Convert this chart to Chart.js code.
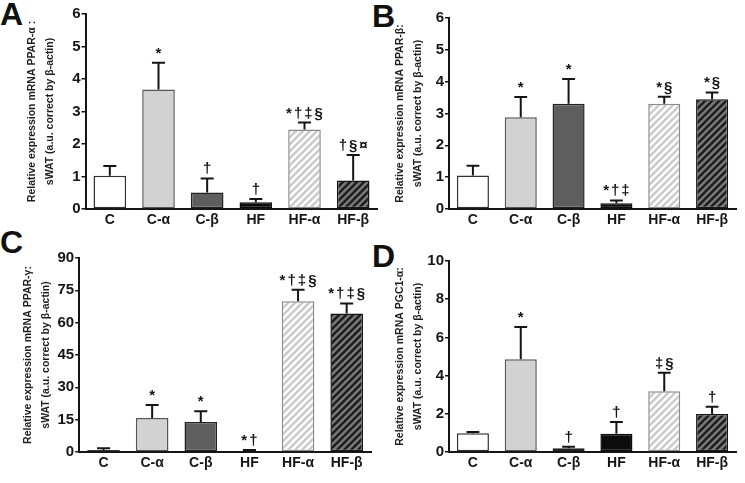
<!DOCTYPE html>
<html>
<head>
<meta charset="utf-8">
<script src="https://cdn.jsdelivr.net/npm/chart.js@4.4.1/dist/chart.umd.min.js"></script>
<style>
  body { margin: 0; background: #fff; width: 745px; height: 483px; position: relative; overflow: hidden; font-family: "Liberation Sans", Arial, sans-serif; }
  canvas { position: absolute; }
  .letter { position: absolute; font-weight: bold; font-size: 32px; line-height: 32px; color: #111; }
</style>
</head>
<body>
<div class="letter" style="left:0px;top:-2px">A</div>
<div class="letter" style="left:372px;top:0px">B</div>
<div class="letter" style="left:0px;top:226px">C</div>
<div class="letter" style="left:372px;top:240px">D</div>

<canvas id="chartA" width="380" height="241" style="left:0;top:0"></canvas>
<canvas id="chartB" width="373" height="241" style="left:372px;top:0"></canvas>
<canvas id="chartC" width="380" height="242" style="left:0;top:241px"></canvas>
<canvas id="chartD" width="373" height="242" style="left:372px;top:241px"></canvas>

<script>
// groups shared by the four panels
const groups = ['C', 'C-α', 'C-β', 'HF', 'HF-α', 'HF-β'];

// A: PPAR-alpha (mean, upper error)
const pparA = [1.02, 3.68, 0.51, 0.21, 2.45, 0.88];
const pparAErr = [0.30, 0.82, 0.43, 0.10, 0.21, 0.78];
const pparAMarks = ['', '*', '†', '†', '*†‡§', '†§¤'];

// B: PPAR-beta
const pparB = [1.05, 2.88, 3.31, 0.18, 3.31, 3.45];
const pparBErr = [0.31, 0.64, 0.77, 0.09, 0.22, 0.21];
const pparBMarks = ['', '*', '*', '*†‡', '*§', '*§'];

// C: PPAR-gamma
const pparG = [0.93, 15.8, 13.9, 0.3, 69.9, 64.3];
const pparGErr = [0.77, 6.0, 5.0, 0.6, 5.4, 4.6];
const pparGMarks = ['', '*', '*', '*†', '*†‡§', '*†‡§'];

// D: PGC1-alpha
const pgc1a = [0.98, 4.85, 0.19, 0.96, 3.18, 1.99];
const pgc1aErr = [0.07, 1.69, 0.09, 0.61, 0.97, 0.38];
const pgc1aMarks = ['', '*', '†', '†', '‡§', '†'];

const ink = '#151515';
const fontFamily = '"Liberation Sans", Arial, sans-serif';

function stripes(bg, fg) {
    const size = 7;
    const c = document.createElement('canvas');
    c.width = size; c.height = size;
    const g = c.getContext('2d');
    g.fillStyle = bg;
    g.fillRect(0, 0, size, size);
    g.strokeStyle = fg;
    g.lineWidth = 2.6;
    g.beginPath();
    g.moveTo(-1, size + 1); g.lineTo(size + 1, -1);
    g.moveTo(-1, 1); g.lineTo(1, -1);
    g.moveTo(size - 1, size + 1); g.lineTo(size + 1, size - 1);
    g.stroke();
    return g.createPattern(c, 'repeat');
}

const fills = ['#ffffff', '#d2d2d2', '#5e5e5e', '#0c0c0c', stripes('#ffffff', '#cbcbcb'), stripes('#7a7a7a', '#1e1e1e')];
const borders = ['#333333', '#555555', '#222222', '#0c0c0c', '#8a8a8a', '#151515'];

// draws the upper error bars and the significance symbols
const errorPlugin = {
    id: 'errorBars',
    afterDatasetsDraw(chart, args, opts) {
        const ctx = chart.ctx;
        const meta = chart.getDatasetMeta(0);
        const yScale = chart.scales.y;
        const values = chart.data.datasets[0].data;
        ctx.save();
        meta.data.forEach((bar, i) => {
            const top = yScale.getPixelForValue(values[i] + opts.errors[i]);
            const half = bar.width * 0.2;
            ctx.strokeStyle = ink;
            ctx.lineWidth = 2;
            ctx.beginPath();
            ctx.moveTo(bar.x, bar.y);
            ctx.lineTo(bar.x, top);
            ctx.moveTo(bar.x - half, top);
            ctx.lineTo(bar.x + half, top);
            ctx.stroke();

            const mark = opts.marks[i];
            if (mark) {
                ctx.fillStyle = ink;
                ctx.font = 'bold 15px ' + fontFamily;
                ctx.textAlign = 'center';
                ctx.textBaseline = 'alphabetic';
                ctx.letterSpacing = '2px';
                ctx.fillText(mark, bar.x + 1, top - 5);
            }
        });
        ctx.restore();
    }
};

function makeChart(id, values, errors, marks, yMax, yStep, titleTop, pad, yWidth, xHeight) {
    return new Chart(document.getElementById(id), {
        type: 'bar',
        data: {
            labels: groups,
            datasets: [{
                data: values,
                backgroundColor: fills,
                borderColor: borders,
                borderWidth: 1.5,
                borderSkipped: false,
                barPercentage: 0.67,
                categoryPercentage: 1
            }]
        },
        options: {
            responsive: false,
            devicePixelRatio: 1,
            animation: false,
            layout: { padding: pad },
            plugins: {
                legend: { display: false },
                tooltip: { enabled: false },
                errorBars: { errors: errors, marks: marks }
            },
            scales: {
                x: {
                    grid: { display: false, drawTicks: false, tickLength: 0 },
                    border: { display: true, color: ink, width: 2 },
                    ticks: {
                        color: ink,
                        padding: 3,
                        font: { family: fontFamily, size: 14, weight: 'bold' }
                    },
                    afterFit(scale) { scale.height = xHeight; }
                },
                y: {
                    min: 0,
                    max: yMax,
                    ticks: {
                        stepSize: yStep,
                        color: ink,
                        padding: 1,
                        font: { family: fontFamily, size: 15, weight: 'bold' }
                    },
                    grid: { drawOnChartArea: false, drawTicks: true, tickLength: 4, color: ink, lineWidth: 1.5 },
                    border: { display: true, color: ink, width: 2 },
                    title: {
                        display: true,
                        text: [titleTop, 'sWAT (a.u. correct by β-actin)'],
                        color: '#1e1e1e',
                        padding: 0,
                        font: { family: fontFamily, size: 10.5, weight: 'bold', lineHeight: 1.75 }
                    },
                    afterFit(scale) { scale.width = yWidth; }
                }
            }
        },
        plugins: [errorPlugin]
    });
}

makeChart('chartA', pparA, pparAErr, pparAMarks, 6, 1, 'Relative expression mRNA PPAR-α :',
    { left: 23, top: 14, right: 2.5, bottom: 0 }, 62.5, 32);
makeChart('chartB', pparB, pparBErr, pparBMarks, 6, 1, 'Relative expression mRNA PPAR-β:',
    { left: 19, top: 18, right: 9, bottom: 0 }, 58, 32);
makeChart('chartC', pparG, pparGErr, pparGMarks, 90, 15, 'Relative expression mRNA PPAR-γ:',
    { left: 19, top: 17, right: 9, bottom: 0 }, 60.2, 31);
makeChart('chartD', pgc1a, pgc1aErr, pgc1aMarks, 10, 2, 'Relative expression mRNA PGC1-α:',
    { left: 19, top: 20, right: 9, bottom: 0 }, 58, 31);
</script>
</body>
</html>
